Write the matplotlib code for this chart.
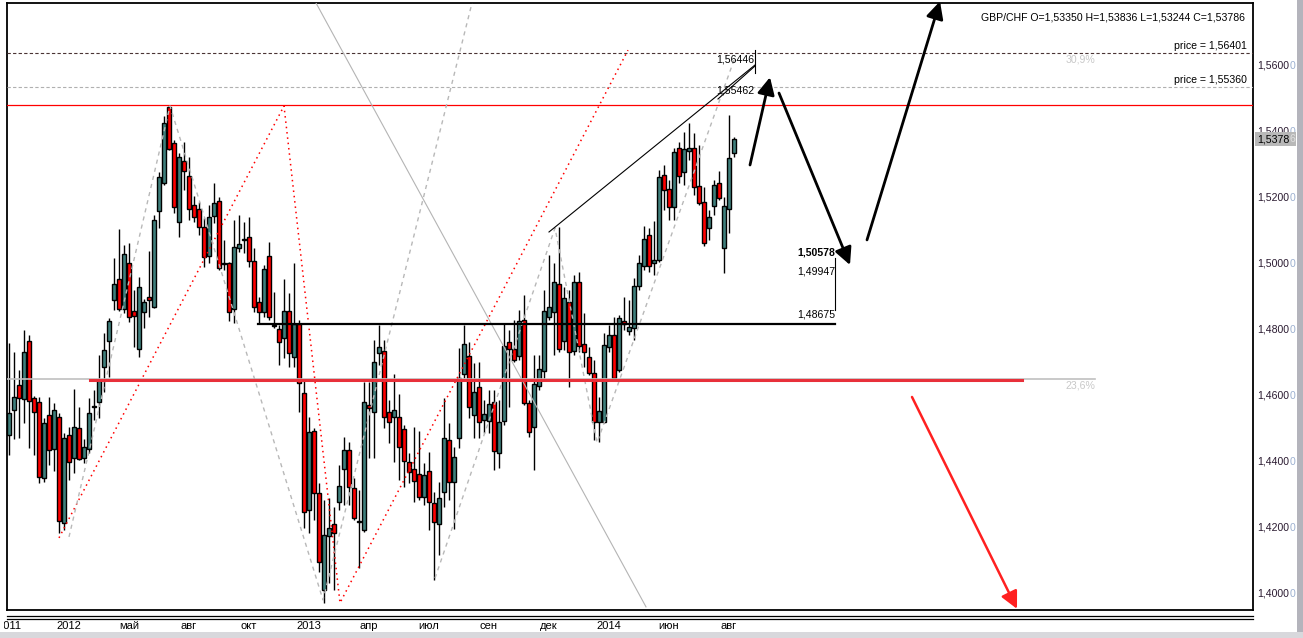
import matplotlib
matplotlib.use("Agg")
import matplotlib.pyplot as plt
import matplotlib.transforms as mtransforms
from matplotlib.patches import Rectangle
from matplotlib.lines import Line2D

plt.rcParams['font.family'] = ['Liberation Sans', 'DejaVu Sans']

# GBP/CHF weekly bars
opens = [
    1.4482, 1.4558, 1.4633, 1.4591, 1.4767, 1.4594, 1.4582, 1.4352, 1.4542, 1.4439,
    1.4536, 1.4215, 1.4482, 1.4412, 1.4503, 1.4412, 1.4439, 1.4568, 1.4582, 1.4688,
    1.4767, 1.4891, 1.4955, 1.4864, 1.5003, 1.4858, 1.4743, 1.4855, 1.4900, 1.4870,
    1.5161, 1.5245, 1.5476, 1.5367, 1.5127, 1.5312, 1.5267, 1.5179, 1.5167, 1.5112,
    1.5024, 1.5145, 1.5191, 1.5000, 1.5003, 1.4864, 1.5049, 1.5073, 1.5082, 1.5009,
    1.4885, 1.4855, 1.5024, 1.4812, 1.4803, 1.4776, 1.4858, 1.4718, 1.4818, 1.4609,
    1.4255, 1.4494, 1.4306, 1.4012, 1.4176, 1.4212, 1.4279, 1.4379, 1.4436, 1.4321,
    1.4218, 1.4194, 1.4573, 1.4552, 1.4730, 1.4736, 1.4552, 1.4536, 1.4536, 1.4500,
    1.4400, 1.4379, 1.4364, 1.4294, 1.4373, 1.4276, 1.4212, 1.4309, 1.4467, 1.4340,
    1.4473, 1.4667, 1.4721, 1.4543, 1.4627, 1.4527, 1.4524, 1.4582, 1.4427, 1.4524,
    1.4764, 1.4743, 1.4721, 1.4830, 1.4579, 1.4506, 1.4630, 1.4676, 1.4839, 1.4855,
    1.4939, 1.4767, 1.4885, 1.4736, 1.4946, 1.4758, 1.4718, 1.4670, 1.4521, 1.4521,
    1.4749, 1.4785, 1.4679, 1.4827, 1.4797, 1.4806, 1.4933, 1.4994, 1.5088, 1.5003,
    1.5012, 1.5270, 1.5227, 1.5173, 1.5352, 1.5279, 1.5342, 1.5352, 1.5236, 1.5188,
    1.5109, 1.5176, 1.5245, 1.5049, 1.5167, 1.53350]
highs = [
    1.4761, 1.4733, 1.4679, 1.4800, 1.4785, 1.4600, 1.4597, 1.4533, 1.4597, 1.4579,
    1.4549, 1.4488, 1.4506, 1.4621, 1.4567, 1.4470, 1.4594, 1.4618, 1.4724, 1.4791,
    1.4836, 1.5018, 1.5106, 1.5058, 1.5064, 1.4921, 1.4961, 1.4894, 1.5040, 1.5149,
    1.5279, 1.5448, 1.5482, 1.5376, 1.5336, 1.5370, 1.5324, 1.5206, 1.5188, 1.5139,
    1.5179, 1.5245, 1.5203, 1.5073, 1.5006, 1.5133, 1.5149, 1.5127, 1.5142, 1.5049,
    1.4900, 1.4997, 1.5067, 1.4915, 1.4815, 1.4955, 1.4912, 1.5003, 1.4830, 1.4649,
    1.4536, 1.4503, 1.4337, 1.4285, 1.4291, 1.4264, 1.4391, 1.4476, 1.4461, 1.4352,
    1.4315, 1.4643, 1.4643, 1.4770, 1.4815, 1.4770, 1.4588, 1.4667, 1.4606, 1.4512,
    1.4427, 1.4506, 1.4494, 1.4397, 1.4430, 1.4309, 1.4340, 1.4594, 1.4518, 1.4446,
    1.4746, 1.4815, 1.4764, 1.4700, 1.4703, 1.4588, 1.4618, 1.4618, 1.4588, 1.4821,
    1.4800, 1.4830, 1.4861, 1.4906, 1.4588, 1.4724, 1.4724, 1.4921, 1.5027, 1.5003,
    1.5112, 1.4930, 1.4921, 1.4967, 1.4976, 1.4852, 1.4749, 1.4709, 1.4597, 1.4791,
    1.4815, 1.4839, 1.4845, 1.4900, 1.4891, 1.4958, 1.5027, 1.5115, 1.5109, 1.5130,
    1.5285, 1.5300, 1.5255, 1.5352, 1.5370, 1.5400, 1.5427, 1.5397, 1.5361, 1.5233,
    1.5164, 1.5255, 1.5282, 1.5203, 1.5452, 1.53836]
lows = [
    1.4421, 1.4470, 1.4473, 1.4518, 1.4443, 1.4421, 1.4337, 1.4340, 1.4391, 1.4373,
    1.4185, 1.4194, 1.4346, 1.4367, 1.4406, 1.4397, 1.4427, 1.4527, 1.4533, 1.4612,
    1.4658, 1.4861, 1.4858, 1.4852, 1.4824, 1.4749, 1.4718, 1.4806, 1.4840, 1.4867,
    1.5109, 1.5239, 1.5346, 1.5155, 1.5082, 1.5224, 1.5133, 1.5127, 1.5088, 1.4991,
    1.5003, 1.5124, 1.4982, 1.4982, 1.4827, 1.4821, 1.5036, 1.5033, 1.4991, 1.4855,
    1.4821, 1.4840, 1.4830, 1.4806, 1.4694, 1.4715, 1.4688, 1.4688, 1.4552, 1.4200,
    1.4185, 1.4224, 1.4067, 1.3973, 1.4034, 1.4012, 1.4255, 1.4270, 1.4270, 1.4224,
    1.4079, 1.4188, 1.4412, 1.4412, 1.4694, 1.4503, 1.4458, 1.4400, 1.4346, 1.4324,
    1.4337, 1.4279, 1.4285, 1.4270, 1.4194, 1.4043, 1.4118, 1.4264, 1.4285, 1.4197,
    1.4443, 1.4655, 1.4533, 1.4473, 1.4473, 1.4488, 1.4488, 1.4376, 1.4382, 1.4512,
    1.4567, 1.4703, 1.4709, 1.4573, 1.4476, 1.4376, 1.4618, 1.4649, 1.4830, 1.4724,
    1.4733, 1.4739, 1.4627, 1.4724, 1.4733, 1.4688, 1.4664, 1.4467, 1.4461, 1.4518,
    1.4733, 1.4649, 1.4673, 1.4800, 1.4785, 1.4770, 1.4921, 1.4982, 1.4976, 1.4967,
    1.5006, 1.5164, 1.5133, 1.5133, 1.5245, 1.5239, 1.5315, 1.5209, 1.5179, 1.5055,
    1.5073, 1.5149, 1.5194, 1.4973, 1.5094, 1.53244]
closes = [
    1.4549, 1.4597, 1.4594, 1.4733, 1.4585, 1.4552, 1.4355, 1.4518, 1.4436, 1.4558,
    1.4221, 1.4473, 1.4400, 1.4506, 1.4409, 1.4446, 1.4549, 1.4569, 1.4649, 1.4740,
    1.4827, 1.4939, 1.4864, 1.5030, 1.4840, 1.4843, 1.4930, 1.4885, 1.4891, 1.5133,
    1.5264, 1.5427, 1.5349, 1.5173, 1.5324, 1.5282, 1.5167, 1.5142, 1.5112, 1.5021,
    1.5142, 1.5185, 1.4988, 1.5003, 1.4855, 1.5052, 1.5061, 1.5076, 1.5009, 1.4870,
    1.4855, 1.4985, 1.4840, 1.4815, 1.4764, 1.4858, 1.4730, 1.4818, 1.4640, 1.4249,
    1.4491, 1.4306, 1.4097, 1.4179, 1.4200, 1.4185, 1.4327, 1.4436, 1.4324, 1.4230,
    1.4221, 1.4582, 1.4564, 1.4703, 1.4749, 1.4536, 1.4521, 1.4558, 1.4446, 1.4403,
    1.4370, 1.4343, 1.4294, 1.4361, 1.4279, 1.4218, 1.4291, 1.4473, 1.4340, 1.4415,
    1.4655, 1.4758, 1.4567, 1.4612, 1.4521, 1.4546, 1.4576, 1.4433, 1.4521, 1.4752,
    1.4743, 1.4709, 1.4827, 1.4579, 1.4491, 1.4636, 1.4682, 1.4858, 1.4870, 1.4946,
    1.4743, 1.4897, 1.4733, 1.4946, 1.4752, 1.4733, 1.4670, 1.4521, 1.4555, 1.4755,
    1.4785, 1.4655, 1.4836, 1.4818, 1.4809, 1.4933, 1.5003, 1.5076, 1.4994, 1.5012,
    1.5264, 1.5224, 1.5173, 1.5339, 1.5267, 1.5349, 1.5352, 1.5233, 1.5185, 1.5064,
    1.5142, 1.5239, 1.5200, 1.5176, 1.5321, 1.53786]

x_labels = ["2011", "2012", "май", "авг", "окт", "2013", "апр",
            "июл", "сен", "дек", "2014", "июн", "авг"]
x_label_bars = [0, 12, 24, 36, 48, 60, 72, 84, 96, 108, 120, 132, 144]
y_ticks = [1.40, 1.42, 1.44, 1.46, 1.48, 1.50, 1.52, 1.54, 1.56]

# horizontal levels
resist_level = 1.5482
fib_236 = 1.4652
red_support = 1.4648
black_support = 1.4818
price_1 = 1.56401
price_2 = 1.55360

# drawn lines: (bar index, price)
red_zz_x = [10.0, 55.0, 66.2, 123.8]
red_zz_y = [1.4170, 1.5479, 1.3973, 1.5648]
grey_zz1_x = [12.0, 32.2, 62.8, 92.6]
grey_zz1_y = [1.4173, 1.5479, 1.3982, 1.5791]
grey_zz2_x = [85.2, 109.2, 117.6, 145.0]
grey_zz2_y = [1.4048, 1.5109, 1.4458, 1.5618]
grey_diag_x = [61.4, 127.4]
grey_diag_y = [1.5791, 1.3961]
trend_x = [108.0, 149.2]
trend_y = [1.5097, 1.5603]

# forecast arrows: (x0, y0, x1, y1)
black_arrows = [(148.2, 1.5300, 152.2, 1.5566),
                (154.0, 1.5518, 168.2, 1.4997),
                (171.6, 1.5073, 186.2, 1.5796)]
red_arrow = (180.6, 1.4597, 201.6, 1.3955)

W, H = 1303, 638
fig = plt.figure(figsize=(W / 100, H / 100), dpi=100)
ax = fig.add_axes([7 / W, 28 / H, 1246 / W, 607 / H])
ax.set_xlim(-0.4, 248.8)
ax.set_ylim(1.39515, 1.57909)
ax.set_xticks([])
ax.set_yticks([])
for s in ax.spines.values():
    s.set_linewidth(1.3)
    s.set_color('black')

teal = '#3f7f7c'
# candles
for i in range(len(opens)):
    o, h, l, c = opens[i], highs[i], lows[i], closes[i]
    ax.vlines(i, l, h, color='black', lw=1.0, zorder=2)
    col = teal if c >= o else '#ff0000'
    ax.bar(i, abs(c - o), bottom=min(o, c), width=0.92, color=col,
           edgecolor='black', linewidth=1.0, zorder=3)

# levels
ax.axhline(resist_level, color='#ff0000', lw=0.9, zorder=4)
ax.plot([-0.4, 217.2], [fib_236, fib_236], color='#c0c0c0', lw=1.2, zorder=4)
ax.plot([16.2, 202.6], [red_support, red_support], color='#e8303a', lw=2.2, zorder=5)
ax.plot([49.8, 165.2], [black_support, black_support], color='black', lw=1.6, zorder=5)
ax.axhline(price_1, color='#4a3434', lw=0.8, ls=(0, (3, 2)), zorder=4)
ax.axhline(price_2, color='#b0b0b0', lw=0.8, ls=(0, (3, 2)), zorder=4)

# zigzags and trend lines
ax.plot(red_zz_x, red_zz_y, color='#ff0000', lw=1.1, ls=(0, (1, 2.5)), zorder=4)
ax.plot(grey_zz1_x, grey_zz1_y, color='#b8b8b8', lw=1.0, ls=(0, (3, 3)), zorder=4)
ax.plot(grey_zz2_x, grey_zz2_y, color='#b8b8b8', lw=1.0, ls=(0, (3, 3)), zorder=4)
ax.plot(grey_diag_x, grey_diag_y, color='#b4b4b4', lw=0.8, zorder=4)
ax.plot(trend_x, trend_y, color='black', lw=0.8, zorder=5)
ax.plot([149.2, 149.2], [1.5648, 1.5578], color='black', lw=0.8, zorder=5)
ax.plot([141.8, 149.2], [1.5500, 1.5600], color='black', lw=0.8, zorder=5)
ax.plot([165.2, 165.2], [1.5018, 1.4861], color='black', lw=0.8, zorder=5)

for x0, y0, x1, y1 in black_arrows:
    ax.annotate('', xy=(x1, y1), xytext=(x0, y0),
                arrowprops=dict(arrowstyle='-|>', color='black', lw=2.0,
                                mutation_scale=26, shrinkA=0, shrinkB=0),
                annotation_clip=False, zorder=6)
x0, y0, x1, y1 = red_arrow
ax.annotate('', xy=(x1, y1), xytext=(x0, y0),
            arrowprops=dict(arrowstyle='-|>', color='#ff2020', lw=1.8,
                            mutation_scale=26, shrinkA=0, shrinkB=0),
            annotation_clip=False, zorder=6)

# level captions
fs = 7.6
ax.text(141.4, 1.5621, '1,56446', fontsize=fs, va='center', zorder=7)
ax.text(141.4, 1.5527, '1,55462', fontsize=fs, va='center', zorder=7)
ax.text(157.6, 1.5036, '1,50578', fontsize=fs, va='center', weight='bold', zorder=7)
ax.text(157.6, 1.4976, '1,49947', fontsize=fs, va='center', zorder=7)
ax.text(157.6, 1.4848, '1,48675', fontsize=fs, va='center', zorder=7)
ax.text(214.2, 1.5621, '30,9%', fontsize=fs, va='center', ha='center', color='#c8c8c8')
ax.text(214.2, 1.4631, '23,6%', fontsize=fs, va='center', ha='center', color='#c8c8c8')
ax.text(247.6, price_1 + 0.0005, 'price = 1,56401', fontsize=fs, ha='right', va='bottom')
ax.text(247.6, price_2 + 0.0005, 'price = 1,55360', fontsize=fs, ha='right', va='bottom')
ax.text(0.9935, 0.985, 'GBP/CHF O=1,53350 H=1,53836 L=1,53244 C=1,53786',
        transform=ax.transAxes, fontsize=fs, ha='right', va='top')

# price scale on the right
tr = mtransforms.blended_transform_factory(fig.transFigure, ax.transData)
for v in y_ticks:
    s = f'{v:.4f}'.replace('.', ',')
    fig.text(1257 / W, v, s, transform=tr, fontsize=fs, va='center', color='#2a1a30')
    fig.text(1290 / W, v, '0', transform=tr, fontsize=fs, va='center', color='#9cb0d0')
fig.patches.append(Rectangle((1255 / W, closes[-1] - 0.0021), 41 / W, 0.0042,
                             transform=tr, facecolor='#b8b8b8', edgecolor='none', zorder=5))
fig.text(1257 / W, closes[-1], '1,5378', transform=tr, fontsize=fs, va='center', zorder=6)
fig.text(1290 / W, closes[-1], '6', transform=tr, fontsize=fs, va='center',
         color='#e0e0e0', zorder=6)

# time scale (first label is cut by the window edge, as in the terminal)
trx = mtransforms.blended_transform_factory(ax.transData, fig.transFigure)
clip = mtransforms.Bbox.from_extents(4, 0, W, 30)
for b, lab in zip(x_label_bars, x_labels):
    t = fig.text(b, 1 - 626 / H, lab, transform=trx, fontsize=8, ha='center', va='center',
                 family=['Liberation Sans Narrow', 'Liberation Sans', 'DejaVu Sans'])
    t.set_clip_box(clip)
    t.set_clip_on(True)
for yy in (615.5, 618.5):
    fig.lines.append(Line2D([7 / W, 1253 / W], [1 - yy / H, 1 - yy / H],
                            transform=fig.transFigure, color='black', lw=0.9))

# window chrome
fig.patches.append(Rectangle((1297 / W, 0), 6 / W, 1, transform=fig.transFigure,
                             facecolor='#b4b4bc', edgecolor='none'))
fig.patches.append(Rectangle((0, 0), 1, 6 / H, transform=fig.transFigure,
                             facecolor='#d8d8dc', edgecolor='none'))

fig.savefig('out.png', dpi=100)
